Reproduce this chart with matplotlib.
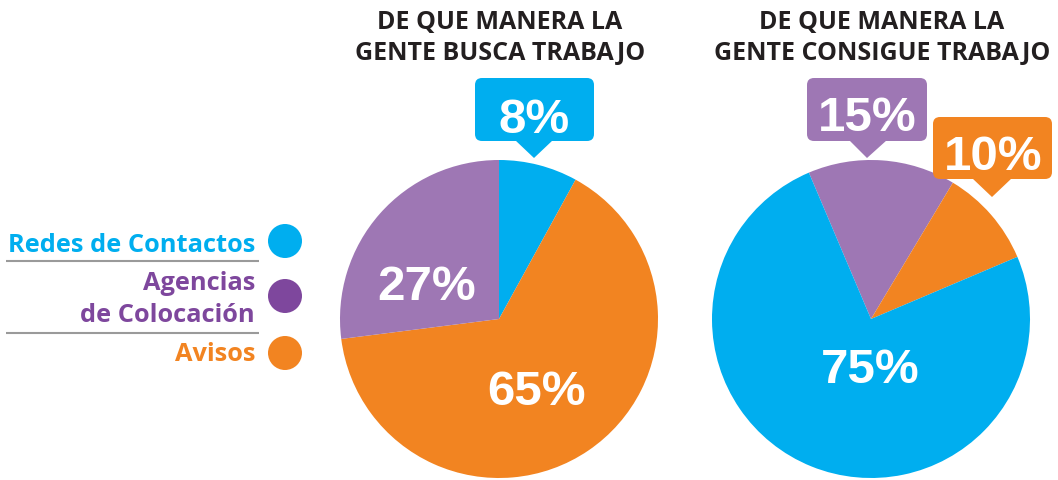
import matplotlib as mpl

mpl.use('agg')

import matplotlib.pyplot as plt
from matplotlib.patches import FancyBboxPatch, Polygon, Circle

W, H = 1058, 481

BLUE = '#00aeef'
ORANGE = '#f28421'
PURPLE = '#9e77b4'
PURPLE_DARK = '#7e479d'
DARK = '#231f20'

## data
categories = ['Redes de Contactos', 'Agencias\nde Colocación', 'Avisos']
busca = [8, 27, 65]       # de que manera la gente busca trabajo
consigue = [75, 15, 10]   # de que manera la gente consigue trabajo
title_busca = ['DE QUE MANERA LA', 'GENTE BUSCA TRABAJO']
title_consigue = ['DE QUE MANERA LA', 'GENTE CONSIGUE TRABAJO']

cat_colors = [BLUE, PURPLE, ORANGE]
legend_colors = [BLUE, PURPLE_DARK, ORANGE]

NUM = dict(family='Liberation Sans', weight='bold', color='white', size=35.5)
HEAD = dict(family='Open Sans', weight='bold', color=DARK, size=18)


def callout(ax, x0, x1, y0, y1, base, tip, color, text, tx, ty):
    ax.add_patch(FancyBboxPatch((x0, y0), x1 - x0, y1 - y0,
                                boxstyle='round,pad=0,rounding_size=7',
                                fc=color, ec='none'))
    ax.add_patch(Polygon([(base[0], y1 - 1), (base[1], y1 - 1), tip],
                         closed=True, fc=color, ec='none'))
    ax.text(tx, ty, text, ha='center', va='baseline', **NUM)


def main():
    fig = plt.figure(figsize=(W / 100, H / 100), dpi=100)
    ax = fig.add_axes([0, 0, 1, 1])

    # left pie: Redes, Avisos, Agencias (clockwise from top)
    order_l = [0, 2, 1]
    ax.pie([busca[i] for i in order_l], colors=[cat_colors[i] for i in order_l],
           center=(499, 320), radius=159, startangle=-90, counterclock=True,
           wedgeprops=dict(linewidth=0))
    # right pie: Agencias, Avisos, Redes
    order_r = [1, 2, 0]
    ax.pie([consigue[i] for i in order_r], colors=[cat_colors[i] for i in order_r],
           center=(871, 320), radius=159, startangle=-113, counterclock=True,
           wedgeprops=dict(linewidth=0))

    ax.set_xlim(0, W)
    ax.set_ylim(H, 0)
    ax.axis('off')

    # labels inside the pies
    ax.text(427, 300, f'{busca[1]}%', ha='center', va='baseline', **NUM)
    ax.text(536, 405, f'{busca[2]}%', ha='center', va='baseline', **NUM)
    ax.text(870, 383, f'{consigue[0]}%', ha='center', va='baseline', **NUM)

    # callouts
    callout(ax, 475, 594, 79, 142, (515, 553), (534, 159), BLUE,
            f'{busca[0]}%', 534, 133)
    callout(ax, 807, 927, 79, 142, (849, 887), (867, 159), PURPLE,
            f'{consigue[1]}%', 867, 131)
    callout(ax, 933, 1052, 118, 180, (972, 1012), (992, 198), ORANGE,
            f'{consigue[2]}%', 993, 170)

    # titles
    for x, lines in [(500, title_busca), (882, title_consigue)]:
        for y, line in zip([29, 60], lines):
            ax.text(x, y, line, ha='center', va='baseline', **HEAD)

    # legend
    leg_font = dict(family='Open Sans', weight='bold', size=18.3, ha='right',
                    va='baseline')
    ax.text(255, 252, categories[0], color=legend_colors[0], **leg_font)
    ax.text(255, 290, categories[1].split('\n')[0], color=legend_colors[1], **leg_font)
    ax.text(255, 322, categories[1].split('\n')[1], color=legend_colors[1], **leg_font)
    ax.text(255, 361, categories[2], color=legend_colors[2], **leg_font)
    for y, c in zip([242, 297, 354], legend_colors):
        ax.add_patch(Circle((285, y), 17, fc=c, ec='none'))
    for y in [262, 334]:
        ax.plot([6, 259], [y, y], color='#9a9a9a', lw=1.5, solid_capstyle='butt')

    fig.savefig('out.png', dpi=100)


if __name__ == '__main__':
    main()
